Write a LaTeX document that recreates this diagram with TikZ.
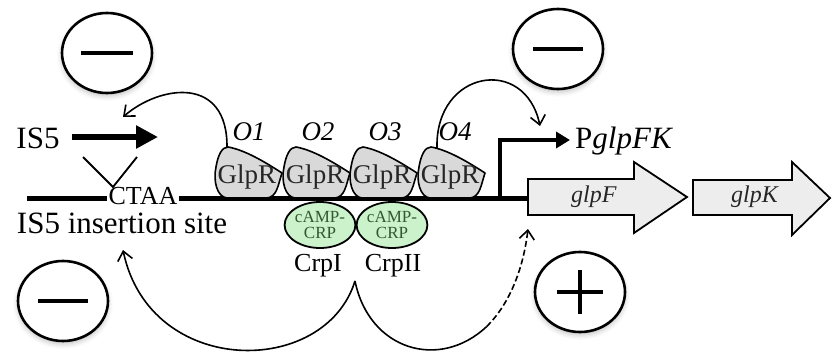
\documentclass[tikz,border=0pt]{standalone}
\usepackage{fontspec}
\setmainfont{Liberation Serif}
\usetikzlibrary{arrows.meta,shapes.geometric,shadows.blur}

\definecolor{glprfill}{HTML}{D9D9D9}
\definecolor{genefill}{HTML}{EDEDED}
\definecolor{crpfill}{HTML}{CCF2CC}
\definecolor{crptext}{HTML}{2F5A2F}

\tikzset{
  lbl/.style={inner sep=0pt, font=\fontsize{#1pt}{#1pt}\selectfont},
  sign/.style={draw, ellipse, line width=2.6pt, minimum width=90pt,
    minimum height=80pt, fill=white,
    blur shadow={shadow xshift=0pt, shadow yshift=-3pt,
      shadow blur radius=5pt, shadow opacity=25}},
  signbar/.style={line width=4pt},
  glpr/.style={draw, line width=1.6pt, fill=glprfill, line join=round},
  crp/.style={draw, ellipse, line width=1.8pt, fill=crpfill,
    minimum width=70pt, minimum height=46pt, inner sep=0pt,
    align=center, text=crptext,
    font=\fontsize{17pt}{16pt}\selectfont},
  dna/.style={line width=5pt},
  gene/.style={draw, line width=1.8pt, fill=genefill, line join=miter},
  reg/.style={line width=1.6pt},
  regtip/.style={line width=1.6pt, -{Straight Barb[length=9pt,width=15pt]}},
  glprshape/.pic={
    \draw[glpr] (13,0) .. controls (30,3) and (50,15) .. (67,26)
      .. controls (63,38) and (62,50) .. (52,51) -- (12,51)
      .. controls (2,50) and (-2,34) .. (1,20)
      .. controls (3,8) and (7,0) .. cycle;
  },
}

\begin{document}
\begin{tikzpicture}[x=1pt, y=-1pt]
\useasboundingbox (0,0) rectangle (832,358);

% regulation signs
\node[sign] (m1) at (107,53) {};
\node[sign] (m2) at (558,49) {};
\node[sign] (m3) at (63,301) {};
\node[sign] (p1) at (580,292) {};
\draw[signbar] ([xshift=-26pt]m1.center) -- ([xshift=26pt]m1.center);
\draw[signbar] ([xshift=-25pt]m2.center) -- ([xshift=25pt]m2.center);
\draw[signbar] ([xshift=-25pt]m3.center) -- ([xshift=25pt]m3.center);
\draw[signbar] ([xshift=-23pt]p1.center) -- ([xshift=23pt]p1.center);
\draw[signbar] ([yshift=-22pt]p1.center) -- ([yshift=22pt]p1.center);

% IS5 element and its insertion site
\node[lbl=31] (is5) at (38,138) {IS5};
\coordinate (is5s) at (72,137);
\coordinate (is5e) at (158,137);
\draw[line width=6pt, -{Triangle[length=22pt,width=22pt]}] (is5s) -- (is5e);

\node[lbl=26, inner sep=1pt] (ctaa) at (143,196) {CTAA};
\coordinate (vl) at (83,157);
\coordinate (vr) at (137,157);
\coordinate (vapex) at (113,187);
\draw[line width=1.8pt] (vl) -- (vapex) -- (vr);
\node[lbl=31] (site) at (122,223) {IS5 insertion site};

% DNA
\coordinate (dnaL) at (27,199);
\coordinate (dnaR) at (528,199);
\draw[dna] (dnaL) -- (ctaa.west |- dnaL);
\draw[dna] (ctaa.east |- dnaR) -- (dnaR);

% promoter
\coordinate (prom) at (500,201);
\coordinate (promtip) at (570,140);
\draw[line width=4pt, line join=miter, -{Triangle[length=14pt,width=16pt]}]
  (prom) |- (promtip);
\node[lbl=31, anchor=west] (pglp) at (575,141) {P\textit{glpFK}};

% genes
\draw[gene] (528,179) -- (634,179) -- (634,162) -- (687,197) -- (634,233)
  -- (634,215) -- (528,215) -- cycle;
\node[lbl=24, text=black!85] (glpF) at (594,197) {\textit{glpF}};
\draw[gene] (693,180) -- (792,180) -- (792,162) -- (830,198) -- (792,235)
  -- (792,215) -- (693,215) -- cycle;
\node[lbl=24, text=black!85] (glpK) at (755,197) {\textit{glpK}};

% GlpR operators
\foreach \i/\x in {1/215,2/283,3/350,4/418}{
  \pic at (\x,147) {glprshape};
  \node[lbl=27, text=black!85] (g\i) at (\x+32,177) {GlpR};
}
\node[lbl=27] (o1) at (249,132) {\textit{O1}};
\node[lbl=27] (o2) at (318,132) {\textit{O2}};
\node[lbl=27] (o3) at (385,132) {\textit{O3}};
\node[lbl=27] (o4) at (455,132) {\textit{O4}};

% CRP binding sites
\node[crp] (c1) at (320,225) {cAMP-\\CRP};
\node[crp] (c2) at (392,225) {cAMP-\\CRP};
\node[lbl=26] (crp1) at (318,266) {CrpI};
\node[lbl=26] (crp2) at (393,266) {CrpII};

% regulatory arcs
\coordinate (g1top) at (227,148);
\coordinate (tipA) at (123,117);
\draw[regtip] (g1top) .. controls (228,75) and (160,85) .. (tipA);

\coordinate (g4top) at (437,148);
\coordinate (tipB) at (540,126);
\draw[regtip] (g4top) .. controls (435,70) and (525,55) .. (tipB);

\coordinate (split) at (355,281);
\coordinate (tipC) at (123,250);
\draw[regtip] (split) .. controls (325,378) and (150,378) .. (tipC);

\coordinate (midD) at (486.6,326.6);
\coordinate (tipD) at (528,229);
\draw[reg] (split) .. controls (369,350) and (439.35,371) .. (midD);
\draw[regtip, dash pattern=on 6pt off 3pt]
  (midD) .. controls (506.6,307) and (522.6,274.3) .. (tipD);
\end{tikzpicture}
\end{document}
